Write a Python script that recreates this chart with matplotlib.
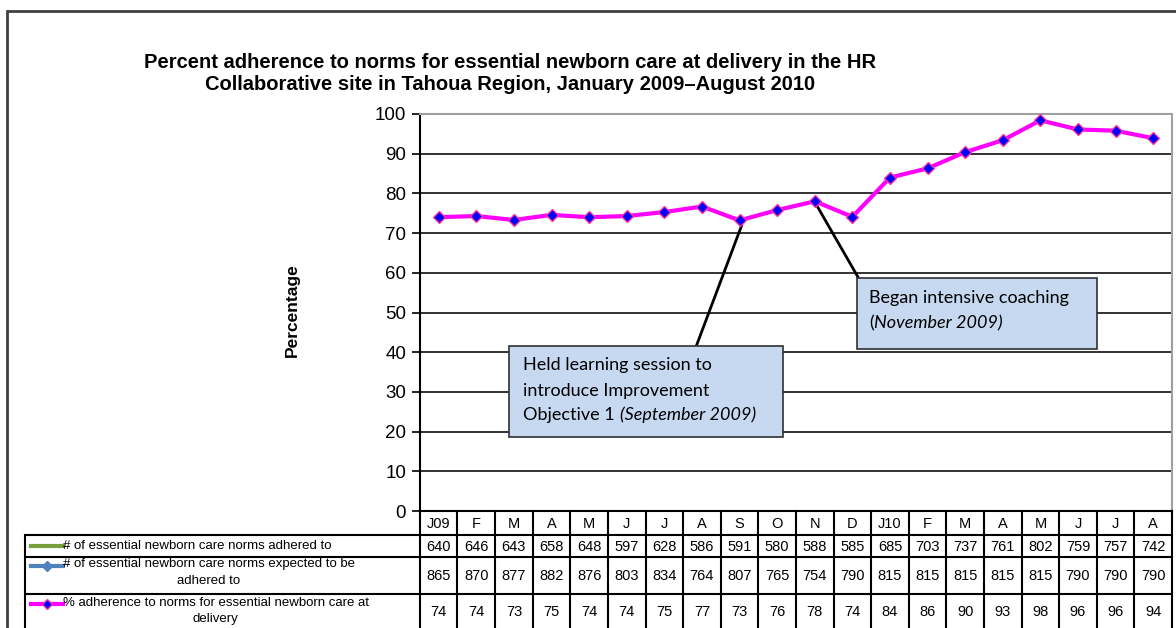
import matplotlib.pyplot as plt
from matplotlib.patches import Rectangle
import numpy as np

plt.rcParams['font.family'] = ['Liberation Sans', 'DejaVu Sans']

# data
months = ['J09', 'F', 'M', 'A', 'M', 'J', 'J', 'A', 'S', 'O', 'N', 'D',
          'J10', 'F', 'M', 'A', 'M', 'J', 'J', 'A']
adhered = [640, 646, 643, 658, 648, 597, 628, 586, 591, 580, 588, 585,
           685, 703, 737, 761, 802, 759, 757, 742]
expected = [865, 870, 877, 882, 876, 803, 834, 764, 807, 765, 754, 790,
            815, 815, 815, 815, 815, 790, 790, 790]
pct_label = [74, 74, 73, 75, 74, 74, 75, 77, 73, 76, 78, 74,
             84, 86, 90, 93, 98, 96, 96, 94]
pct_line = [74.0, 74.3, 73.3, 74.6, 74.0, 74.3, 75.3, 76.7, 73.2, 75.8, 78.0, 74.1,
            84.0, 86.3, 90.4, 93.4, 98.4, 96.1, 95.8, 93.9]

row_labels = ['# of essential newborn care norms adhered to',
              '# of essential newborn care norms expected to be\nadhered to',
              '% adherence to norms for essential newborn care at\ndelivery']

W, H = 1176, 628
fig = plt.figure(figsize=(W / 100, H / 100), dpi=100)

# outer frame
fig.patches.append(Rectangle((7 / W, -0.05), 1.2, 1 - 11 / H + 0.05, transform=fig.transFigure,
                             fill=False, edgecolor='#404040', lw=2))

# title and y label
fig.text(510 / W, 1 - 63 / H, 'Percent adherence to norms for essential newborn care at delivery in the HR',
         ha='center', va='center', fontsize=14.5, fontweight='bold')
fig.text(510 / W, 1 - 85 / H, 'Collaborative site in Tahoua Region, January 2009\u2013August 2010',
         ha='center', va='center', fontsize=14.5, fontweight='bold')
fig.text(292 / W, 1 - 310 / H, 'Percentage', rotation=90, ha='center', va='center',
         fontsize=12.5, fontweight='bold')

# main plot
ax = fig.add_axes([420 / W, 1 - 511 / H, 752 / W, 397 / H])
x = np.arange(len(months))
ax.set_xlim(-0.5, len(months) - 0.5)
ax.set_ylim(0, 100)
ax.set_yticks(range(0, 101, 10))
ax.set_xticks([])
ax.tick_params(axis='y', direction='out', length=6, width=1.2, labelsize=13.5, pad=4)
for y in range(10, 100, 10):
    ax.axhline(y, color='#222222', lw=1.3, zorder=1)
ax.spines['top'].set_color('#a0a0a0')
ax.spines['right'].set_color('#a0a0a0')
ax.spines['top'].set_linewidth(1.5)
ax.spines['right'].set_linewidth(1.5)
ax.spines['left'].set_linewidth(1.5)
ax.spines['bottom'].set_linewidth(1.5)

ax.plot(x, pct_line, color='#ff00ff', lw=3, marker='D', markersize=6,
        markerfacecolor='#0000ff', markeredgecolor='#ff3399', markeredgewidth=1, zorder=5)

# callouts
box_color = '#c6d9f1'
ax.plot([6.85, 8.05], [41.6, 71.8], color='black', lw=2, zorder=4)
ax.add_patch(Rectangle((1.87, 18.6), 7.28, 23.0, facecolor=box_color, edgecolor='#303030',
                       lw=1.2, zorder=6))
ax.plot([11.15, 10.05], [58.9, 77.0], color='black', lw=2, zorder=4)
ax.add_patch(Rectangle((11.12, 40.8), 6.38, 17.9, facecolor=box_color, edgecolor='#303030',
                       lw=1.2, zorder=6))

cfont = dict(family=['Lato', 'DejaVu Sans'], fontsize=13, va='center', ha='left', zorder=7)
ax.text(2.25, 36.8, 'Held learning session to', **cfont)
ax.text(2.25, 30.3, 'introduce Improvement', **cfont)
t1 = ax.text(2.25, 24.2, 'Objective 1 ', **cfont)
ax.text(11.45, 53.6, 'Began intensive coaching', **cfont)
t2 = ax.text(11.45, 47.3, '(', **cfont)

fig.canvas.draw()
r = fig.canvas.get_renderer()
inv = ax.transData.inverted()
e1 = t1.get_window_extent(r)
ax.text(inv.transform((e1.x1, 0))[0], 24.2, '(September 2009)', style='italic', **cfont)
e2 = t2.get_window_extent(r)
ax.text(inv.transform((e2.x1, 0))[0], 47.3, 'November 2009)', style='italic', **cfont)

# data table below the plot, same x scale as the chart
tax = fig.add_axes([25 / W, 0, 1147 / W, 1 - 511 / H])
tax.set_xlim(-11, len(months) - 0.5)
tax.set_ylim(628, 511)
tax.axis('off')
rows_y = [511, 535, 557, 594, 660]
lc = 'black'
for xl in np.arange(-0.5, len(months), 1.0):
    tax.plot([xl, xl], [511, 640], color=lc, lw=1.5, clip_on=False)
tax.plot([-11, -11], [535, 640], color=lc, lw=1.5, clip_on=False)
for yy in rows_y[1:4]:
    tax.plot([-11, len(months) - 0.5], [yy, yy], color=lc, lw=1.5)

hy = (rows_y[0] + rows_y[1]) / 2
for i, m in enumerate(months):
    tax.text(i, hy + 1, m, ha='center', va='center', fontsize=10.5)

table_rows = [adhered, expected, pct_label]
value_y = [546, 575, 611]
for r_i, vals in enumerate(table_rows):
    for i, v in enumerate(vals):
        tax.text(i, value_y[r_i] + 1, str(v), ha='center', va='center', fontsize=10.5)

# row labels with legend keys
key_x0, key_x1 = -10.85, -10.0
label_y = [546, 566, 604]
tax.plot([key_x0, key_x1], [label_y[0]] * 2, color='#77a03c', lw=3)
tax.plot([key_x0, key_x1], [label_y[1]] * 2, color='#4f81bd', lw=3)
tax.plot([(key_x0 + key_x1) / 2], [label_y[1]], marker='D', markersize=5, color='#4f81bd')
tax.plot([key_x0, key_x1], [label_y[2]] * 2, color='#ff00ff', lw=3)
tax.plot([(key_x0 + key_x1) / 2], [label_y[2]], marker='D', markersize=5,
         markerfacecolor='#0000ff', markeredgecolor='#ff3399')
for k, lab in enumerate(row_labels):
    if '\n' in lab:
        tax.text(key_x1, label_y[k] - 7.5, lab, ha='left', va='top', multialignment='center',
                 fontsize=9.5, linespacing=1.45)
    else:
        tax.text(key_x1, label_y[k], lab, ha='left', va='center', fontsize=9.5)

fig.savefig('out.png', dpi=100)
